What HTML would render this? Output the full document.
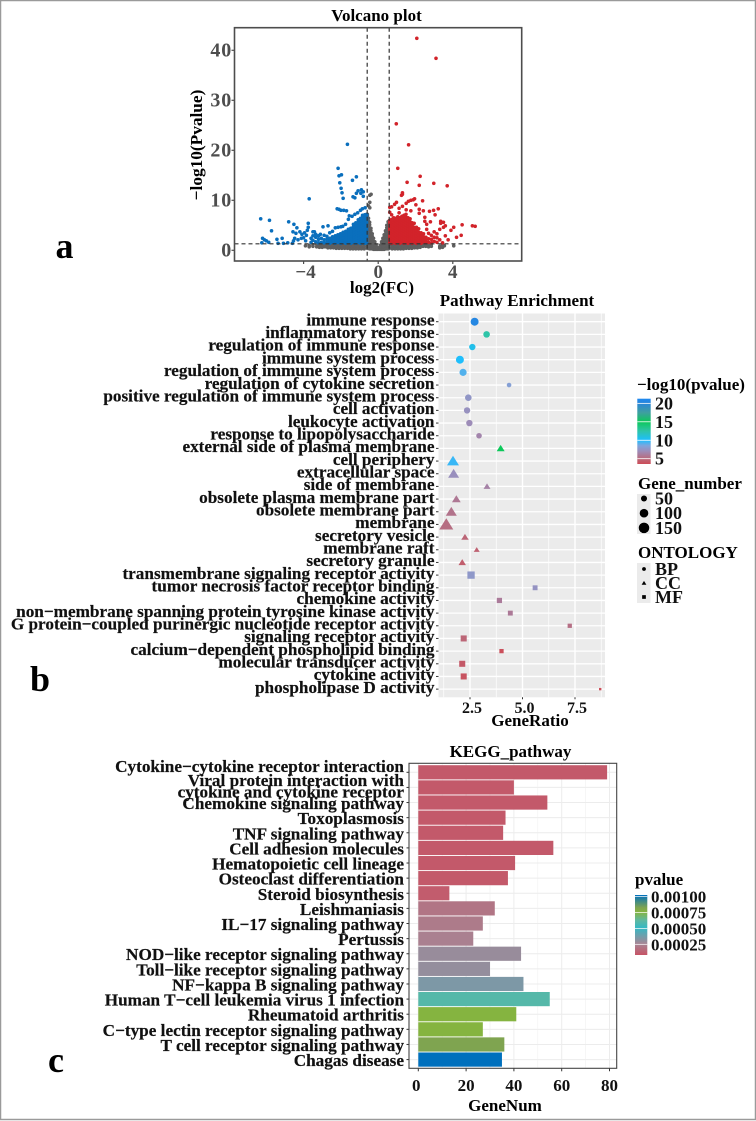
<!DOCTYPE html>
<html lang="en">
<head>
<meta charset="utf-8">
<title>Volcano plot, pathway enrichment and KEGG pathway figure</title>
<style>
html,body{margin:0;padding:0;background:#fff;}
svg{display:block;font-family:"Liberation Serif",serif;font-weight:bold;}
</style>
</head>
<body>
<svg id="fig" xmlns="http://www.w3.org/2000/svg" width="756" height="1121" viewBox="0 0 756 1121">
  <defs>
    <linearGradient id="ratioGrad" x1="0" y1="1" x2="0" y2="0"></linearGradient>
    <linearGradient id="pvalGrad" x1="0" y1="1" x2="0" y2="0"></linearGradient>
  </defs>
  <rect x="0.5" y="0.5" width="755" height="1119" fill="#fff" stroke="#9a9a9a" stroke-width="1.5"/>

  <text x="64.5" y="258" font-size="36" text-anchor="middle">a</text>
  <text x="40" y="691" font-size="36" text-anchor="middle">b</text>
  <text x="56" y="1072" font-size="36" text-anchor="middle">c</text>

  <g id="volcano">
    <text x="376.5" y="21" font-size="17" text-anchor="middle">Volcano plot</text>
    <text x="382" y="293" font-size="17" text-anchor="middle">log2(FC)</text>
    <text transform="translate(202 145) rotate(-90)" font-size="17.3" text-anchor="middle">−log10(Pvalue)</text>
  </g>

  <g id="dotplot">
    <text x="517" y="306" font-size="17" text-anchor="middle">Pathway Enrichment</text>
    <text x="530" y="726" font-size="17" text-anchor="middle">GeneRatio</text>
    <text x="637" y="390" font-size="17">−log10(pvalue)</text>
    <text x="638" y="489" font-size="17">Gene_number</text>
    <text x="638" y="558" font-size="17">ONTOLOGY</text>
  </g>

  <g id="barplot">
    <text x="510.5" y="757" font-size="17" text-anchor="middle">KEGG_pathway</text>
    <text x="505" y="1111" font-size="17" text-anchor="middle">GeneNum</text>
    <text x="635" y="885" font-size="17">pvalue</text>
  </g>
</svg>

<script>
/* ---------- Volcano data: [log2FC, [-log10 p values at that FC]] ---------- */
const volcanoXTicks = [-4, 0, 4];
const volcanoYTicks = [0, 10, 20, 30, 40];
const volcanoVLines = [-0.59, 0.59];
const volcanoHLine = 1.3;
const grayColumns = [
  [-3.9,[0.9]],[-3.7,[1.0,0.7]],[-3.5,[1.1,0.8]],[-3.3,[1.2,0.7]],[-3.15,[1.1,0.6]],[-3,[1.2,0.8,0.6]],[-2.85,[1.1,0.7]],[-2.7,[1.2,0.8,0.5]],
  [-2.55,[1.2,0.8,0.5]],[-2.4,[1.2,0.8,0.5]],[-2.25,[1.2,0.8,0.4]],[-2.1,[1.2,0.8,0.4]],[-1.95,[1.2,0.8,0.4]],[-1.8,[1.2,0.8,0.4]],[-1.65,[1.2,0.8,0.4]],
  [-1.5,[1.2,0.8,0.3]],[-1.35,[1.2,0.8,0.3]],[-1.2,[1.2,0.8,0.3]],[-1.05,[1.2,0.7,0.3]],[-0.9,[1.2,0.7,0.3]],[-0.75,[1.2,0.7,0.3]],
  [-0.58,[0.4,0.9,1.4,1.9,2.4,2.9,3.4,3.9,4.4,4.9,5.4,5.9,6.4,6.9,7.2]],[-0.52,[0.4,1,1.6,2.2,2.8,3.4,4,4.6,5.2,5.8,6.4]],
  [-0.46,[0.3,0.9,1.5,2.1,2.7,3.3,3.9,4.5,5.1,5.6]],[-0.39,[0.3,0.9,1.5,2.1,2.7,3.3,3.9,4.4]],[-0.32,[0.3,0.8,1.3,1.8,2.3,2.8,3.3]],
  [-0.25,[0.2,0.8,1.3,1.8,2.4]],[-0.18,[0.2,0.7,1.2,1.7]],[-0.11,[0.2,0.6,1.0]],[-0.04,[0.2,0.5]],[0.04,[0.2,0.5]],[0.11,[0.2,0.6,1.0]],
  [0.18,[0.2,0.7,1.2,1.7]],[0.25,[0.2,0.8,1.3,1.9,2.4]],[0.32,[0.2,0.8,1.4,2,2.6,3.1]],[0.39,[0.3,0.9,1.5,2.1,2.7,3.3,3.9]],
  [0.46,[0.3,0.9,1.5,2.1,2.7,3.3,3.9,4.5,5]],[0.53,[0.3,0.9,1.5,2.1,2.7,3.3,3.9,4.5,5.1,5.7]],[0.59,[0.4,1,1.6,2.2,2.8,3.4,4,4.6,5.2,5.9]],
  [0.75,[1.2,0.7,0.3]],[0.9,[1.2,0.7,0.3]],[1.05,[1.2,0.8,0.3]],[1.2,[1.2,0.8,0.3]],[1.35,[1.2,0.8,0.3]],[1.5,[1.2,0.8,0.4]],[1.65,[1.2,0.8,0.4]],
  [1.8,[1.2,0.8,0.4]],[1.95,[1.2,0.8,0.5]],[2.1,[1.2,0.8,0.5]],[2.25,[1.2,0.8,0.6]],[2.4,[1.1,0.8]],[2.55,[1.2,0.8]],[2.7,[1.1,0.7]],[2.85,[1.2,0.8]],
  [3.3,[0.8,0.5]],[3.45,[1.1,0.6]],[3.55,[0.9]],[4.05,[0.9]],
  [-0.45,[8.5,9.6,11]],[-0.38,[11.2]],[-0.52,[8.9]]
];
const downColumns = [
  [-0.62,[1.5,2,2.5,3,3.5,4,4.5,5,5.5,6,6.5,7,7.2]],[-0.72,[1.4,1.9,2.4,2.9,3.4,3.9,4.4,4.9,5.4,5.9,6.4,6.9,7.1]],
  [-0.84,[1.6,2.1,2.6,3.1,3.6,4.1,4.6,5.1,5.6,6.1,6.6,7]],[-0.95,[1.4,1.9,2.4,2.9,3.4,3.9,4.4,4.9,5.4,5.9,6.4]],
  [-1.07,[1.6,2.1,2.6,3.1,3.6,4.1,4.6,5.1,5.6,6.1]],[-1.2,[1.4,1.9,2.4,2.9,3.4,3.9,4.4,4.9,5.5]],
  [-1.33,[1.6,2.1,2.6,3.1,3.6,4.1,4.7,5.2]],[-1.47,[1.4,1.9,2.4,2.9,3.4,3.9,4.4]],[-1.6,[1.6,2.1,2.6,3.1,3.6,4.2]],
  [-1.74,[1.4,1.9,2.4,2.9,3.4,3.8]],[-1.88,[1.6,2.1,2.6,3.1,3.6]],[-2.02,[1.4,1.9,2.4,2.9,3.3]],[-2.16,[1.6,2.1,2.6,3.1]],
  [-2.3,[1.4,1.9,2.4,2.9]],[-2.45,[1.6,2.1,2.7]],[-2.6,[1.4,1.9,2.4]],[-2.75,[1.6,2.2,2.8]],[-2.9,[1.5,2.1,3]],[-3.05,[1.6,2.4]],
  [-3.2,[1.5,2.2,2.9]],[-3.35,[1.7,2.6,3.2]],[-3.5,[2,2.9,3.7]],
  [-1.65,[21.2]],[-2.15,[16.4]],[-1.97,[15.1]],[-2.1,[14.9]],[-1.17,[14.7,11.4]],[-1.38,[14]],[-2.06,[13.5]],[-1.99,[12.4]],[-1.94,[11.5]],
  [-1.88,[10.4]],[-3.7,[10.3]],[-0.9,[12.1]],[-1.08,[11.9]],[-1.35,[10.7]],[-0.93,[11.4]],[-0.8,[11.7,10.8]],[-1.25,[10.5]],
  [-6.3,[6.3]],[-5.83,[6]],[-5.72,[3.9]],[-4.8,[5.7]],[-4.52,[5.2]],[-3.75,[5.4,4.6]],[-6.2,[2.4]],[-6.1,[2.1]],[-6,[1.9]],[-5.87,[1.6]],[-6.24,[1.5]],
  [-5.43,[2.2]],[-5.15,[2.4]],[-5.37,[1.4]],[-5.08,[1.4]],[-4.85,[1.5]],[-4.6,[1.4]],[-4.36,[4.5]],[-4.57,[3.7]],[-4.41,[3.4]],[-4.48,[2.4]],[-4.54,[1.9]],
  [-4.2,[3.7]],[-4.09,[3.2]],[-3.95,[3.5]],[-3.85,[3]],[-4,[2.5]],[-3.8,[4]],[-4.3,[2.1]],[-4.12,[2.4]],[-3.89,[1.9]],[-3.6,[2.4,1.6]],[-3.42,[3.7]],
  [-2.96,[4.7]],[-2.69,[4.9]],[-3.1,[3.2]],[-2.45,[3.8]],[-2.6,[3.5]],[-2.3,[4.5]],[-2.15,[4.6]],[-2,[4.7,8]],[-1.9,[4.8]],[-1.75,[5.2]],[-1.6,[6.2]],
  [-1.55,[6.9]],[-1.4,[6.8]],[-1.25,[7.2]],[-1.1,[7.5]],[-0.95,[8]],[-0.85,[8.3]],[-0.7,[8.5]],[-2.2,[8.3]],[-2.1,[8.2]],[-1.85,[8]],[-1.7,[7.9]]
];
const upColumns = [
  [0.62,[1.5,2,2.5,3,3.5,4,4.5,5,5.5,6]],[0.72,[1.4,1.9,2.4,2.9,3.4,3.9,4.4,4.9,5.4,5.9,6.2]],[0.83,[1.6,2.1,2.6,3.1,3.6,4.1,4.6,5.1,5.6,6.1,6.5]],
  [0.94,[1.4,1.9,2.4,2.9,3.4,3.9,4.4,4.9,5.4,5.9,6.4]],[1.05,[1.6,2.1,2.6,3.1,3.6,4.1,4.6,5.1,5.6,6.1,6.7]],[1.16,[1.4,1.9,2.4,2.9,3.4,3.9,4.4,4.9,5.4,5.9,6.5]],
  [1.27,[1.6,2.1,2.6,3.1,3.6,4.1,4.6,5.1,5.6,6.1,6.8]],[1.38,[1.4,1.9,2.4,2.9,3.4,3.9,4.4,4.9,5.4,5.9,6.4,7]],[1.49,[1.6,2.1,2.6,3.1,3.6,4.1,4.6,5.1,5.6,6.1,6.6,7.2]],
  [1.6,[1.4,1.9,2.4,2.9,3.4,3.9,4.4,4.9,5.4,5.9,6.5]],[1.71,[1.6,2.1,2.6,3.1,3.6,4.1,4.6,5.1,5.7,6.3]],[1.82,[1.4,1.9,2.4,2.9,3.4,3.9,4.4,5,5.5]],
  [1.93,[1.6,2.1,2.6,3.1,3.6,4.1,4.6,5.4]],[2.05,[1.4,1.9,2.4,2.9,3.4,4,4.6]],[2.17,[1.6,2.1,2.6,3.1,3.6,4.3]],[2.3,[1.4,1.9,2.4,2.9,3.5]],
  [2.43,[1.6,2.1,2.7,3.3]],[2.56,[1.5,2,2.6]],[2.7,[1.6,2.3,3.4]],[2.85,[1.5,2.2,3]],[3,[1.8,2.6,3.7]],[3.15,[1.6,2.5,3.3]],[3.3,[2.1,4.2]],
  [2.07,[42.4]],[3.1,[38.4]],[0.97,[25.3]],[1.63,[21.1]],[1.05,[16.4]],[2.25,[14.8]],[1.55,[13.6]],[2.2,[13.0]],[2.98,[13.4]],[3.7,[12.9]],
  [1.3,[11.5,11.2]],[1.25,[11.0]],[0.62,[8.6,7.6]],[0.72,[7.1,8.7]],[0.88,[9.2]],[0.98,[9.6]],[1.12,[8.4,7.5]],[1.3,[8.8]],[1.5,[9.4,8.1]],[1.62,[9.8]],
  [1.75,[10.0,7.9]],[1.88,[10.1]],[1.95,[10.3]],[2.02,[9.1]],[2.2,[8.2,7.4]],[2.38,[9.9]],[2.42,[7.9]],[2.75,[7.8]],[2.97,[8.0]],[2.5,[6.6,5.8]],
  [3.22,[8.3]],[3.05,[7.1]],[3.35,[5.8,5.4]],[3.5,[5.6,4.6]],[2.8,[5.7]],[2.6,[5.2,4.2]],[3.6,[2.9,4.9]],[3.75,[2.1]],[3.9,[4.0]],[4.05,[4.6]],
  [4.45,[3.0]],[4.5,[5.1]],[5.05,[4.9]],[5.2,[4.8]],[3.45,[1.5]],[4.2,[2.6]]
];

/* ---------- Enrichment dot plot data ---------- */
const termNames = ["immune response","inflammatory response","regulation of immune response","immune system process","regulation of immune system process","regulation of cytokine secretion","positive regulation of immune system process","cell activation","leukocyte activation","response to lipopolysaccharide","external side of plasma membrane","cell periphery","extracellular space","side of membrane","obsolete plasma membrane part","obsolete membrane part","membrane","secretory vesicle","membrane raft","secretory granule","transmembrane signaling receptor activity","tumor necrosis factor receptor binding","chemokine activity","non−membrane spanning protein tyrosine kinase activity","G protein−coupled purinergic nucleotide receptor activity","signaling receptor activity","calcium−dependent phospholipid binding","molecular transducer activity","cytokine activity","phospholipase D activity"];
const termOntology = ["BP","BP","BP","BP","BP","BP","BP","BP","BP","BP","CC","CC","CC","CC","CC","CC","CC","CC","CC","CC","MF","MF","MF","MF","MF","MF","MF","MF","MF","MF"];
const termRatio = [2.72,3.29,2.61,2.02,2.17,4.36,2.42,2.36,2.47,2.93,3.96,1.69,1.72,3.31,1.85,1.61,1.37,2.26,2.82,2.13,2.55,5.6,3.9,4.42,7.25,2.2,4.0,2.13,2.2,8.7];
const termLogP = [20.5,12.5,10.6,10.1,9.2,8.2,7.6,7.3,7,6.6,15,9.6,7.2,6.4,5.8,5.5,5.2,4.8,4.6,4.4,7.7,7.4,6,5.9,5.3,4.8,3.7,4.2,3.9,3.6];
const termGenes = [86,59,55,86,70,29,59,55,55,42,55,125,105,42,66,105,170,48,31,48,76,34,39,34,26,52,26,52,52,8];
const ratioTicks = [2.5,5,7.5];
const ratioTickLabels = ["2.5","5.0","7.5"];
const ratioMinorTicks = [1.25,3.75,6.25,8.75];
const logPLegendTicks = [20,15,10,5];
const geneLegendValues = [50,100,150];
const ontologyLegend = ["BP","CC","MF"];
const logPColorValues = [3.55,5,7,8.5,10,12.5,15,17.5,20,21.25];
const logPColors = ["#cd4c57","#b96a7c","#9d8cb8","#7fa5dc","#1ebeff","#2ec4a8","#0cc85a","#3f9fa0","#2a86d8","#1e88f0"];

/* ---------- KEGG bar plot data ---------- */
const keggNames = [["Cytokine−cytokine receptor interaction"],["Viral protein interaction with","cytokine and cytokine receptor"],["Chemokine signaling pathway"],["Toxoplasmosis"],["TNF signaling pathway"],["Cell adhesion molecules"],["Hematopoietic cell lineage"],["Osteoclast differentiation"],["Steroid biosynthesis"],["Leishmaniasis"],["IL−17 signaling pathway"],["Pertussis"],["NOD−like receptor signaling pathway"],["Toll−like receptor signaling pathway"],["NF−kappa B signaling pathway"],["Human T−cell leukemia virus 1 infection"],["Rheumatoid arthritis"],["C−type lectin receptor signaling pathway"],["T cell receptor signaling pathway"],["Chagas disease"]];
const keggGeneNum = [79,40,54,36.5,35.5,56.5,40.5,37.5,13,32,27,23,43,30,44,55,41,27,36,35];
const keggPvalue = [0.00009,0.00009,0.00009,0.00009,0.00009,0.00009,0.00009,0.00009,0.0001,0.00019,0.00021,0.00023,0.00028,0.00029,0.00034,0.00059,0.00075,0.00075,0.00082,0.00102];
const geneNumTicks = [0,20,40,60,80];
const pvalLegendTicks = [0.001,0.00075,0.0005,0.00025];
const pvalLegendLabels = ["0.00100","0.00075","0.00050","0.00025"];
const pvalColorValues = [0.00007,0.00025,0.0005,0.00062,0.00075,0.00082,0.00102];
const pvalColors = ["#c75365","#a68695","#35b8c4","#5fb8a0","#85b440","#7fa450","#0070bd"];

/* ---------- Helpers ---------- */
const NS = "http://www.w3.org/2000/svg";
function make(tag, attrs, parent){
  const e = document.createElementNS(NS, tag);
  for (const k in attrs) e.setAttribute(k, attrs[k]);
  parent.appendChild(e);
  return e;
}
function hexRgb(h){return [1,3,5].map(i=>parseInt(h.substr(i,2),16));}
function colorScale(values, colors, v){
  if (v <= values[0]) return colors[0];
  for (let i = 1; i < values.length; i++){
    if (v <= values[i]){
      const t = (v-values[i-1])/(values[i]-values[i-1]);
      const a = hexRgb(colors[i-1]), b = hexRgb(colors[i]);
      return "rgb("+a.map((c,j)=>Math.round(c+(b[j]-c)*t)).join(",")+")";
    }
  }
  return colors[colors.length-1];
}

/* ---------- Volcano ---------- */
const vGroup = document.getElementById("volcano");
const vx = d => 378.2 + d*18.65;
const vy = d => 250.3 - d*5;
const vLeft = 234.5, vRight = 521.7, vTop = 27.7, vBottom = 261;
const vBg = make("rect",{x:vLeft,y:vTop,width:vRight-vLeft,height:vBottom-vTop,fill:"#fff"},vGroup);


function drawVolcano(columns, color, name){
  const g = make("g",{fill:color},vGroup);
  
  
  columns.forEach(col=>{
    col[1].forEach(y=>{
      const c = make("circle",{cx:vx(col[0]).toFixed(2),cy:vy(y).toFixed(2),r:1.8},g);
      
      
    });
  });
}
drawVolcano(grayColumns,"#5f5f5f","not-significant-points");
drawVolcano(downColumns,"#0a6fbd","down-regulated-points");
drawVolcano(upColumns,"#d2232a","up-regulated-points");
volcanoVLines.forEach(v=>{
  const l = make("line",{x1:vx(v),x2:vx(v),y1:vTop,y2:vBottom,stroke:"#333","stroke-width":1.2,"stroke-dasharray":"4 3"},vGroup);
  
  
});
const vh = make("line",{x1:vLeft,x2:vRight,y1:vy(volcanoHLine),y2:vy(volcanoHLine),stroke:"#333","stroke-width":1.2,"stroke-dasharray":"4 3"},vGroup);


const vBorder = make("rect",{x:vLeft,y:vTop,width:vRight-vLeft,height:vBottom-vTop,fill:"none",stroke:"#4d4d4d","stroke-width":1.6},vGroup);


volcanoXTicks.forEach(t=>{
  const tk = make("line",{x1:vx(t),x2:vx(t),y1:vBottom,y2:vBottom+3,stroke:"#4d4d4d","stroke-width":1.2},vGroup);
  
  
  const lb = make("text",{x:vx(t)+(t<0?2:0),y:278,"font-size":19,"text-anchor":"middle",fill:"#4d4d4d"},vGroup);
  lb.textContent = t<0 ? "−"+Math.abs(t) : String(t);
  
  
});
volcanoYTicks.forEach(t=>{
  const tk = make("line",{x1:vLeft-3,x2:vLeft,y1:vy(t),y2:vy(t),stroke:"#4d4d4d","stroke-width":1.2},vGroup);
  
  
  const lb = make("text",{x:232,y:vy(t)+6,"font-size":20,"text-anchor":"end",fill:"#4d4d4d","letter-spacing":"0.8"},vGroup);
  lb.textContent = String(t);
  
  
});

/* ---------- Enrichment dot plot ---------- */
const dGroup = document.getElementById("dotplot");
const dx = r => 417.5 + r*21;
const dy = i => 321.7 + i*12.67;
const sizeR = n => 0.43*Math.sqrt(n);
const dLeft = 438.5, dRight = 605, dTop = 313.5, dBottom = 697.3;
const dBg = make("rect",{x:dLeft,y:dTop,width:dRight-dLeft,height:dBottom-dTop,fill:"#ebebeb"},dGroup);


ratioMinorTicks.forEach(t=>{
  const l = make("line",{x1:dx(t),x2:dx(t),y1:dTop,y2:dBottom,stroke:"#fff","stroke-width":0.7},dGroup);
  
  
});
ratioTicks.forEach((t,i)=>{
  const l = make("line",{x1:dx(t),x2:dx(t),y1:dTop,y2:dBottom,stroke:"#fff","stroke-width":1.4},dGroup);
  
  
  const tk = make("line",{x1:dx(t),x2:dx(t),y1:dBottom,y2:dBottom+2,stroke:"#333","stroke-width":1},dGroup);
  
  
  const lb = make("text",{x:dx(t)+2,y:713,"font-size":16,"text-anchor":"middle",fill:"#111"},dGroup);
  lb.textContent = ratioTickLabels[i];
  
  
});
function drawShape(shape, x, y, r, fill, parent){
  if (shape === "BP") return make("circle",{cx:x,cy:y,r:r,fill:fill},parent);
  if (shape === "CC"){
    const w = r*1.25, h = w*1.6;
    return make("polygon",{points:(x)+","+(y-h*0.55)+" "+(x-w)+","+(y+h*0.45)+" "+(x+w)+","+(y+h*0.45),fill:fill},parent);
  }
  const s = r*1.95;
  return make("rect",{x:x-s/2,y:y-s/2,width:s,height:s,fill:fill},parent);
}
termNames.forEach((name,i)=>{
  const gl = make("line",{x1:dLeft,x2:dRight,y1:dy(i),y2:dy(i),stroke:"#fff","stroke-width":1.3},dGroup);
  
  
  const tk = make("line",{x1:dLeft-2.5,x2:dLeft,y1:dy(i),y2:dy(i),stroke:"#333","stroke-width":1},dGroup);
  
  
  const lb = make("text",{x:434.5,y:dy(i)+3.7,"font-size":17.2,"text-anchor":"end",fill:"#111",stroke:"#111","stroke-width":0.2},dGroup);
  lb.textContent = name;
  
  
});
termNames.forEach((name,i)=>{
  const m = drawShape(termOntology[i],dx(termRatio[i]),dy(i),sizeR(termGenes[i]),colorScale(logPColorValues,logPColors,termLogP[i]),dGroup);
  
  
});
/* colour legend */
const ratioGrad = document.getElementById("ratioGrad");
logPColorValues.forEach((v,i)=>{
  make("stop",{offset:((v-3.55)/(21.25-3.55)).toFixed(3),"stop-color":logPColors[i]},ratioGrad);
});
const lpy = v => 458.7 - (v-5)*3.69;
const cb = make("rect",{x:637.3,y:398.7,width:13.4,height:65.3,fill:"url(#ratioGrad)"},dGroup);


logPLegendTicks.forEach(t=>{
  const tk = make("line",{x1:637.3,x2:650.7,y1:lpy(t),y2:lpy(t),stroke:"#fff","stroke-width":0.8},dGroup);
  
  
  const lb = make("text",{x:655,y:lpy(t)+6,"font-size":18,fill:"#111"},dGroup);
  lb.textContent = String(t);
  
  
});
/* size legend */
const sizeBg = make("rect",{x:637,y:494,width:13.5,height:40,fill:"#ebebeb"},dGroup);


geneLegendValues.forEach((v,i)=>{
  const y = 498.5 + i*14.7;
  const c = make("circle",{cx:644,cy:y,r:sizeR(v),fill:"#000"},dGroup);
  
  
  const lb = make("text",{x:655,y:y+6,"font-size":18,fill:"#111"},dGroup);
  lb.textContent = String(v);
  
  
});
/* shape legend */
const ontBg = make("rect",{x:637,y:563,width:13.5,height:40,fill:"#ebebeb"},dGroup);


ontologyLegend.forEach((v,i)=>{
  const y = 569 + i*14;
  const m = drawShape(v,644,y,1.9,"#000",dGroup);
  
  
  const lb = make("text",{x:655,y:y+6,"font-size":18,fill:"#111"},dGroup);
  lb.textContent = v;
  
  
});

/* ---------- KEGG bars ---------- */
const bGroup = document.getElementById("barplot");
const bx = v => 418.3 + v*2.39;
const by = i => 772.3 + i*15.12;
const bLeft = 409, bRight = 616.7, bTop = 763.3, bBottom = 1068.3;
geneNumTicks.forEach(t=>{
  const l = make("line",{x1:bx(t),x2:bx(t),y1:bTop,y2:bBottom,stroke:"#ececec","stroke-width":1},bGroup);
  
  
  if (t < 80){
    const m = make("line",{x1:bx(t+10),x2:bx(t+10),y1:bTop,y2:bBottom,stroke:"#f3f3f3","stroke-width":0.7},bGroup);
    
    
  }
  const tk = make("line",{x1:bx(t),x2:bx(t),y1:bBottom,y2:bBottom+3,stroke:"#333","stroke-width":1},bGroup);
  
  
  const lb = make("text",{x:bx(t)-(t===0?2:0),y:1091,"font-size":17,"text-anchor":"middle",fill:"#111"},bGroup);
  lb.textContent = String(t);
  
  
});
keggNames.forEach((lines,i)=>{
  const gl = make("line",{x1:bLeft,x2:bRight,y1:by(i),y2:by(i),stroke:"#ececec","stroke-width":1},bGroup);
  
  
  const tk = make("line",{x1:bLeft-2.5,x2:bLeft,y1:by(i),y2:by(i),stroke:"#333","stroke-width":1},bGroup);
  
  
  const bar = make("rect",{x:bx(0),y:by(i)-7.1,width:bx(keggGeneNum[i])-bx(0),height:14.2,fill:colorScale(pvalColorValues,pvalColors,keggPvalue[i])},bGroup);
  
  
  lines.forEach((txt,j)=>{
    let cy = by(i) + 1.5;
    if (i === 0) cy = by(i) - 5.5;
    if (lines.length === 2) cy = by(i) + (j === 0 ? -6.4 : 5.3);
    const lb = make("text",{x:404,y:cy+5,"font-size":17.2,"text-anchor":"end",fill:"#111",stroke:"#111","stroke-width":0.2},bGroup);
    lb.textContent = txt;
    
    
  });
});
const bBorder = make("rect",{x:bLeft,y:bTop,width:bRight-bLeft,height:bBottom-bTop,fill:"none",stroke:"#444","stroke-width":1.1},bGroup);


const pvalGrad = document.getElementById("pvalGrad");
pvalColorValues.forEach((v,i)=>{
  make("stop",{offset:((v-0.00007)/(0.00102-0.00007)).toFixed(3),"stop-color":pvalColors[i]},pvalGrad);
});
const ppy = v => 944.3 - (v-0.00025)/0.00025*15.9;
const pb = make("rect",{x:635,y:895,width:12.3,height:60,fill:"url(#pvalGrad)"},bGroup);


pvalLegendTicks.forEach((t,i)=>{
  const tk = make("line",{x1:635,x2:647.3,y1:ppy(t),y2:ppy(t),stroke:"#fff","stroke-width":0.7},bGroup);
  
  
  const lb = make("text",{x:651,y:ppy(t)+6,"font-size":17,fill:"#111"},bGroup);
  lb.textContent = pvalLegendLabels[i];
  
  
});
</script>
</body>
</html>
